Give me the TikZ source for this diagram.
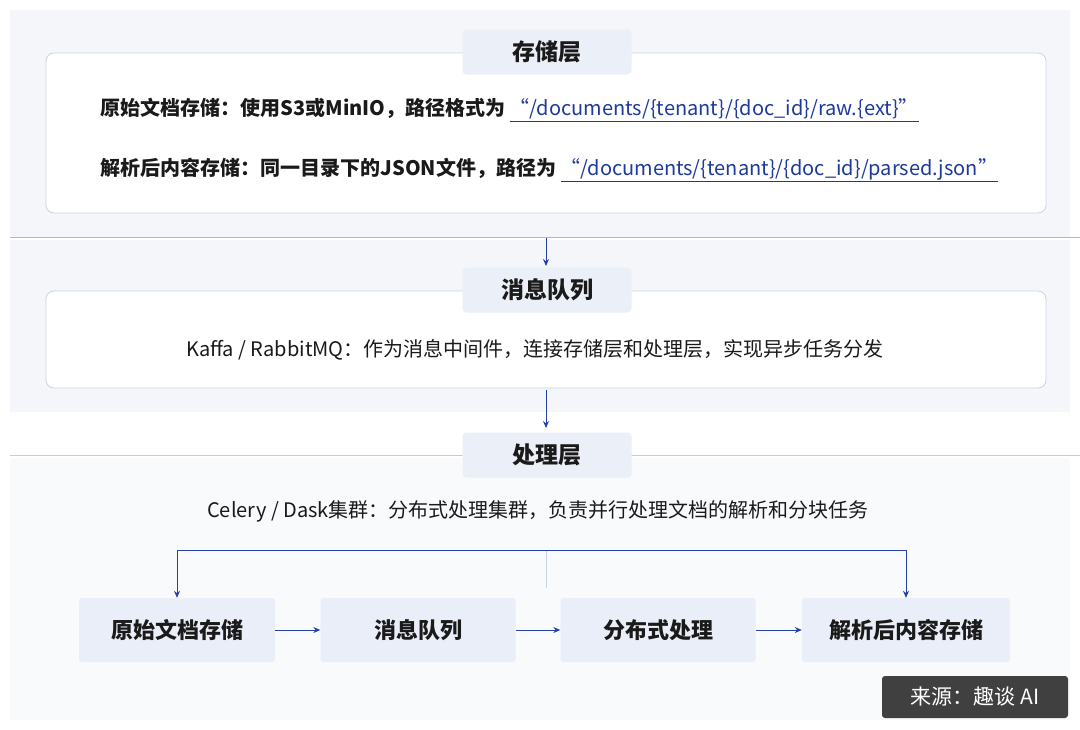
\documentclass[tikz,border=0pt]{standalone}
\usepackage{fontspec}
\setmainfont{Noto Sans CJK SC}
\usetikzlibrary{arrows.meta}
\definecolor{bandbg}{HTML}{F4F6FA}
\definecolor{boxline}{HTML}{C9D3E6}
\definecolor{tabfill}{HTML}{EBEFF7}
\definecolor{linkblue}{HTML}{1E3A9A}
\definecolor{arrowblue}{HTML}{2541A8}
\definecolor{sepline}{HTML}{A9B8D6}
\definecolor{bfill}{HTML}{E9EEF8}
\definecolor{txt}{HTML}{1A1A1A}
\begin{document}
\begin{tikzpicture}[x=1pt,y=-1pt,
  panel/.style={draw=boxline,fill=white,rounded corners=8pt,line width=0.8pt},
  tab/.style={fill=tabfill,rounded corners=4pt,minimum width=169pt,minimum height=45pt,font=\fontsize{23}{26}\selectfont\bfseries,text=txt},
  stepbox/.style={fill=bfill,rounded corners=3pt,minimum height=64pt,font=\fontsize{22}{25}\selectfont\bfseries,text=txt},
  arr/.style={-{Stealth[length=7pt,width=6pt]},arrowblue,line width=1pt},
  body/.style={font=\fontsize{20}{23}\selectfont,text=txt}]
\useasboundingbox (0,0) rectangle (1080,729);
\fill[white] (0,0) rectangle (1080,729);
\fill[bandbg] (10,10) rectangle (1070,237);
\fill[bandbg] (10,240) rectangle (1070,412);
\fill[bandbg!50] (10,458) rectangle (1070,720);
\draw[sepline,line width=0.8pt] (10,237) -- (1080,237);
\draw[sepline!70,line width=0.8pt] (10,455) -- (1080,455);
% storage
\draw[panel] (46,53) rectangle (1046,213);
\node[tab] (t1) at (547,52) {存储层};
\node[body,anchor=west] (l1) at (97,110) {\textbf{原始文档存储：使用S3或MinIO，路径格式为} \textcolor{linkblue}{\underline{“/documents/\{tenant\}/\{doc\_id\}/raw.\{ext\}”}}};
\node[body,anchor=west] (l2) at (97,170) {\textbf{解析后内容存储：同一目录下的JSON文件，路径为} \textcolor{linkblue}{\underline{“/documents/\{tenant\}/\{doc\_id\}/parsed.json”}}};
% queue
\draw[panel] (46,291) rectangle (1046,388);
\node[tab] (t2) at (547,290) {消息队列};
\node[body] (l3) at (535,350) {Kaffa / RabbitMQ：作为消息中间件，连接存储层和处理层，实现异步任务分发};
\coordinate (a1s) at (546,238); \coordinate (a1e) at (546,266);
\draw[arr] (a1s) -- (a1e);
\coordinate (a2s) at (546,390); \coordinate (a2e) at (546,428);
\draw[arr] (a2s) -- (a2e);
% processing
\node[tab] (t3) at (547,455) {处理层};
\node[body] (l4) at (538,511) {Celery / Dask集群：分布式处理集群，负责并行处理文档的解析和分块任务};
\node[stepbox,minimum width=196pt] (b1) at (177,630) {原始文档存储};
\node[stepbox,minimum width=195pt] (b2) at (418,630) {消息队列};
\node[stepbox,minimum width=195pt] (b3) at (658,630) {分布式处理};
\node[stepbox,minimum width=208pt] (b4) at (906,630) {解析后内容存储};
\draw[arr] (b1) -- (b2);
\draw[arr] (b2) -- (b3);
\draw[arr] (b3) -- (b4);
\coordinate (m) at (546,550);
\coordinate (m2) at (546,588);
\draw[boxline,line width=0.8pt] (m) -- (m2);
\draw[arr] (m) -- (177,550) -- (b1.north);
\draw[arr] (m) -- (906,550) -- (b4.north);
% watermark
\node[fill=black!75,text=white,rounded corners=3pt,minimum width=186pt,minimum height=42pt,font=\fontsize{21}{24}\selectfont] (wm) at (975,697) {来源：趣谈 AI};
\end{tikzpicture}
\end{document}
